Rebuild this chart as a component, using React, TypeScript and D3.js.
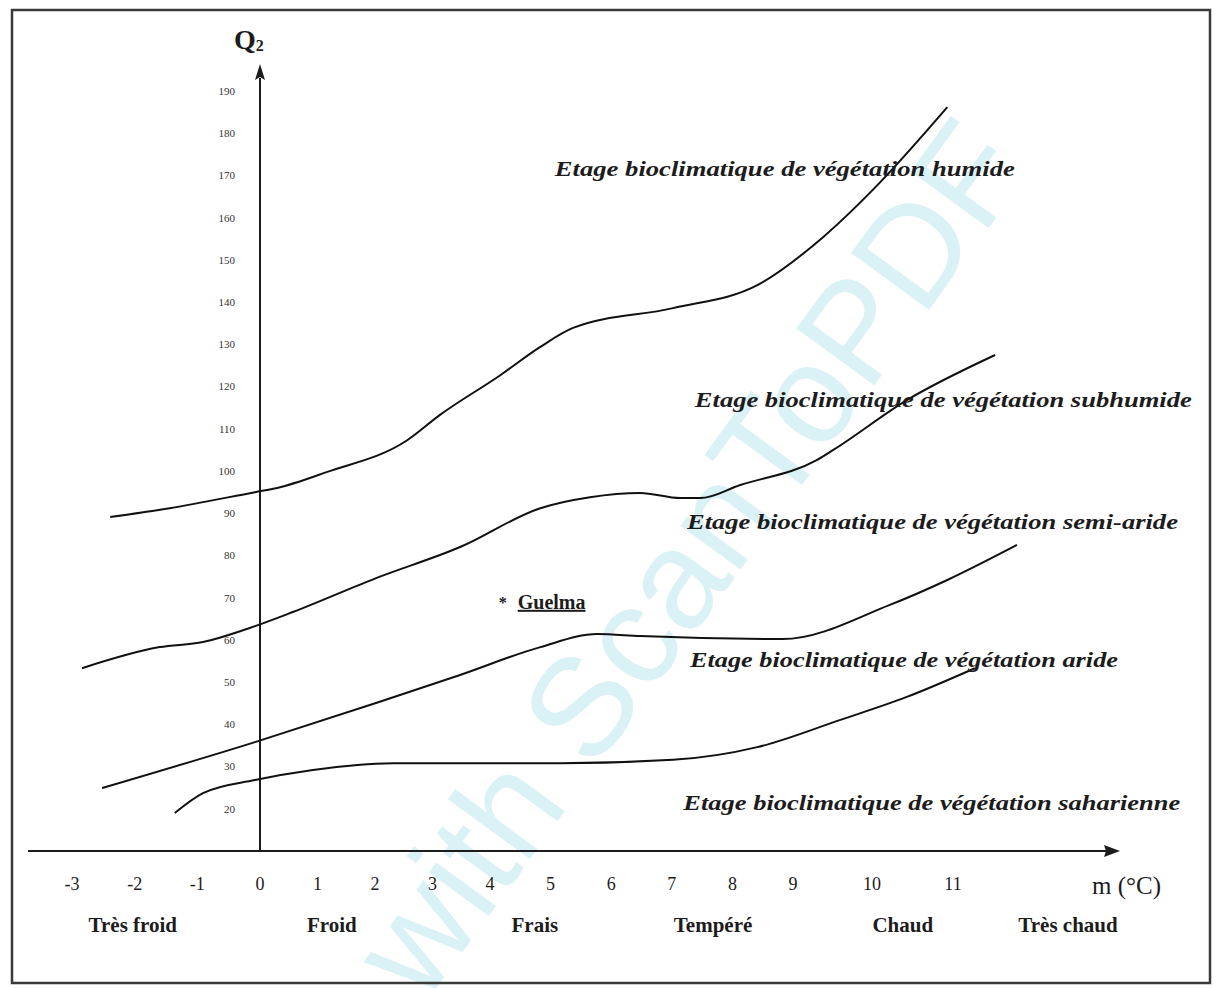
import React from 'react';
import * as d3 from 'd3';

// ---- Axis ticks ----
const M_TICKS = [-3, -2, -1, 0, 1, 2, 3, 4, 5, 6, 7, 8, 9, 10, 11];
const M_TICK_LABELS = ['-3', '-2', '-1', '0', '1', '2', '3', '4', '5', '6', '7', '8', '9', '10', '11'];
const Q_TICKS = [20, 30, 40, 50, 60, 70, 80, 90, 100, 110, 120, 130, 140, 150, 160, 170, 180, 190];

// ---- Boundary curves (m °C, Q2) ----
const HUMID_SUBHUMID_M = [-2.39, -1.44, -0.08, 0.3, 1.17, 2.56, 3.13, 4.17, 4.83, 5.37, 7.02, 8.42, 9.38, 10.01, 10.93];
const HUMID_SUBHUMID_Q = [89.1, 91.2, 95.0, 96.0, 99.8, 107.3, 113.3, 122.7, 129.4, 133.9, 138.6, 144.1, 155.4, 166.6, 186.2];

const SUBHUMID_SEMIARID_M = [-2.84, -1.6, -0.91, -0.21, 0.57, 2.03, 3.48, 4.83, 5.65, 6.48, 7.14, 7.47, 8.13, 9.3, 9.51, 10.43, 11.52];
const SUBHUMID_SEMIARID_Q = [53.3, 58.3, 59.5, 62.6, 66.6, 74.7, 82.0, 91.2, 93.8, 94.8, 93.6, 93.6, 96.7, 102.6, 105.0, 116.8, 127.5];

const SEMIARID_ARID_M = [-2.52, -0.08, 2.03, 3.48, 4.83, 5.77, 6.48, 8.83, 10.22, 10.93, 11.79];
const SEMIARID_ARID_Q = [24.9, 35.8, 45.1, 51.7, 58.3, 61.4, 60.9, 60.2, 68.3, 74.2, 82.5];

const ARID_SAHARAN_M = [-1.36, -0.91, -0.08, 0.92, 2.31, 5.16, 7.02, 8.41, 9.59, 10.43, 11.27];
const ARID_SAHARAN_Q = [19.0, 23.7, 26.8, 29.2, 30.8, 30.8, 31.6, 34.6, 41.0, 46.5, 53.3];

// ---- Zone labels ----
const ZONE_LABELS = [
  'Etage bioclimatique de végétation humide',
  'Etage bioclimatique de végétation subhumide',
  'Etage bioclimatique de végétation semi-aride',
  'Etage bioclimatique de végétation aride',
  'Etage bioclimatique de végétation saharienne',
];
const ZONE_LABEL_M = [5.07, 7.38, 7.25, 7.3, 7.19];
const ZONE_LABEL_Q = [169.9, 115.2, 86.3, 53.6, 19.7];
const ZONE_LABEL_WIDTH = [460, 497, 491, 428, 497];

// ---- Thermal classes ----
const THERMAL_CLASSES = ['Très froid', 'Froid', 'Frais', 'Tempéré', 'Chaud', 'Très chaud'];
const THERMAL_CLASS_M = [-2.03, 1.25, 4.74, 7.68, 10.38, 12.42];

// ---- Station ----
const STATION_NAMES = ['Guelma'];
const STATION_M = [4.21];
const STATION_Q = [69.5];

const W = 1219;
const H = 988;

export default function App() {
  const xs = d3.scaleLinear().domain([-3, 0, 4, 9, 10, 11]).range([72, 260, 490, 793, 872, 953]);
  const ys = d3.scaleLinear().domain([10, 195]).range([851, 70]);

  const line = d3
    .line<[number, number]>()
    .x((d) => xs(d[0]))
    .y((d) => ys(d[1]))
    .curve(d3.curveMonotoneX);

  const curves = [
    d3.zip(HUMID_SUBHUMID_M, HUMID_SUBHUMID_Q),
    d3.zip(SUBHUMID_SEMIARID_M, SUBHUMID_SEMIARID_Q),
    d3.zip(SEMIARID_ARID_M, SEMIARID_ARID_Q),
    d3.zip(ARID_SAHARAN_M, ARID_SAHARAN_Q),
  ] as [number, number][][];

  const x0 = xs(0);
  const yAxisY = ys(10);
  const serif = '"Liberation Serif", "DejaVu Serif", serif';
  const ink = '#1c1c1c';

  return (
    <svg
      width={W}
      height={H}
      viewBox={`0 0 ${W} ${H}`}
      style={{ position: 'absolute', left: 0, top: 0, display: 'block', background: '#fff' }}
    >
      <rect x={0} y={0} width={W} height={H} fill="#fff" />
      {/* watermark */}
      <text
        transform="translate(1032,168) rotate(-54)"
        textAnchor="end"
        fontFamily='"Liberation Sans", Arial, sans-serif'
        fontSize={140}
        fill="#daf1f6"
      >
        with ScanToPDF
      </text>

      {/* frame */}
      <rect x={12} y={10} width={1198} height={973} fill="none" stroke="#3a3a3a" strokeWidth={2.5} />

      {/* axes */}
      <line x1={28} y1={yAxisY} x2={1108} y2={yAxisY} stroke={ink} strokeWidth={2} />
      <path d={`M1120,${yAxisY} L1104,${yAxisY - 6} L1106,${yAxisY} L1104,${yAxisY + 6} Z`} fill={ink} />
      <line x1={x0} y1={yAxisY} x2={x0} y2={78} stroke={ink} strokeWidth={2} />
      <path d={`M${x0},64 L${x0 - 5},80 L${x0},77 L${x0 + 5},80 Z`} fill={ink} />

      {/* y tick labels */}
      {Q_TICKS.map((q) => (
        <text
          key={q}
          x={x0 - 25}
          y={ys(q)}
          dy="0.35em"
          textAnchor="end"
          fontFamily={serif}
          fontSize={11}
          fill="#333"
        >
          {q}
        </text>
      ))}

      {/* Q2 label */}
      <text x={234} y={49} fontFamily={serif} fontSize={28} fontWeight="bold" fill={ink}>
        Q
        <tspan fontSize={16} dy={2}>
          2
        </tspan>
      </text>

      {/* x tick labels */}
      {M_TICKS.map((m, i) => (
        <text
          key={m}
          x={xs(m)}
          y={890}
          textAnchor="middle"
          fontFamily={serif}
          fontSize={18}
          fill={ink}
        >
          {M_TICK_LABELS[i]}
        </text>
      ))}
      <text x={1092} y={894} fontFamily={serif} fontSize={25} fill={ink}>
        m (°C)
      </text>

      {/* thermal classes */}
      {THERMAL_CLASSES.map((c, i) => (
        <text
          key={c}
          x={xs(THERMAL_CLASS_M[i])}
          y={932}
          textAnchor="middle"
          fontFamily={serif}
          fontSize={21}
          fontWeight="bold"
          fill={ink}
        >
          {c}
        </text>
      ))}

      {/* boundary curves */}
      {curves.map((c, i) => (
        <path key={i} d={line(c) || ''} fill="none" stroke="#111" strokeWidth={2} strokeLinejoin="round" />
      ))}

      {/* zone labels */}
      {ZONE_LABELS.map((t, i) => (
        <text
          key={t}
          x={xs(ZONE_LABEL_M[i])}
          y={ys(ZONE_LABEL_Q[i])}
          fontFamily={serif}
          fontSize={20}
          fontStyle="italic"
          fontWeight="bold"
          fill={ink}
          textLength={ZONE_LABEL_WIDTH[i]}
          lengthAdjust="spacingAndGlyphs"
        >
          {t}
        </text>
      ))}

      {/* station */}
      {STATION_NAMES.map((s, i) => (
        <g key={s} transform={`translate(${xs(STATION_M[i])},${ys(STATION_Q[i])})`}>
          <text x={-4} y={8} fontFamily={serif} fontSize={16} fontWeight="bold" fill={ink}>
            *
          </text>
          <text x={15} y={9} fontFamily={serif} fontSize={20} fontWeight="bold" fill={ink} textDecoration="underline">
            {s}
          </text>
        </g>
      ))}
    </svg>
  );
}
